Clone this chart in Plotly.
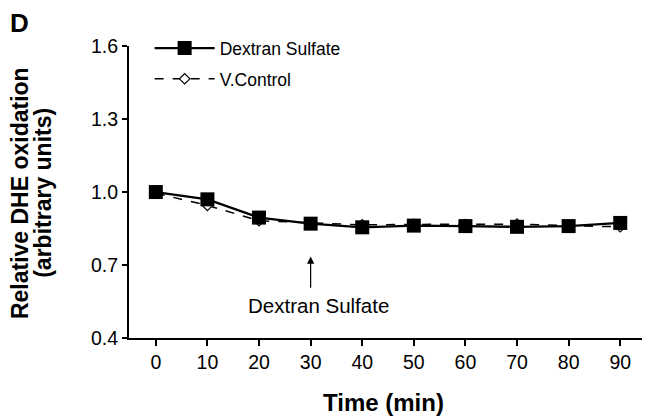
import plotly.graph_objects as go

time_min = [0, 10, 20, 30, 40, 50, 60, 70, 80, 90]
dextran_sulfate = [1.0, 0.97, 0.895, 0.87, 0.855, 0.862, 0.86, 0.857, 0.86, 0.873]
v_control = [0.995, 0.945, 0.882, 0.872, 0.865, 0.867, 0.866, 0.868, 0.862, 0.857]
y_ticks = [0.4, 0.7, 1.0, 1.3, 1.6]
y_tick_text = ["0.4", "0.7", "1.0", "1.3", "1.6"]
x_ticks = [0, 10, 20, 30, 40, 50, 60, 70, 80, 90]
x_range = [-5.2, 94.8]

FONT = "Liberation Sans, Arial, sans-serif"

fig = go.Figure()
fig.add_trace(go.Scatter(
    x=time_min, y=v_control, name="V.Control", mode="lines+markers",
    line=dict(color="black", width=1.5, dash="dash"),
    marker=dict(symbol="diamond", size=8, color="white", line=dict(color="black", width=1.2)),
    legendgroup="b", legendrank=2,
))
fig.add_trace(go.Scatter(
    x=time_min, y=dextran_sulfate, name="Dextran Sulfate", mode="lines+markers",
    line=dict(color="black", width=2.3),
    marker=dict(symbol="square", size=14, color="black"),
    legendgroup="a", legendrank=1,
))

# arrow marking treatment
fig.add_annotation(x=30, y=0.735, ax=30, ay=0.6, xref="x", yref="y", axref="x", ayref="y",
                   text="", showarrow=True, arrowhead=2, arrowsize=1.2, arrowwidth=1.2,
                   arrowcolor="black")
fig.add_annotation(x=31.5, y=0.535, xref="x", yref="y", text="Dextran Sulfate",
                   showarrow=False, font=dict(family=FONT, size=20.5, color="black"))
# panel letter
fig.add_annotation(x=-0.213, y=0.99, xref="paper", yref="paper", xanchor="center", yanchor="middle",
                   text="<b>D</b>", showarrow=False, borderpad=0,
                   font=dict(family=FONT, size=26, color="black"))
# axis titles
fig.add_annotation(x=0.494, y=-0.204, xref="paper", yref="paper", xanchor="center",
                   yanchor="middle", text="<b>Time (min)</b>", showarrow=False,
                   font=dict(family=FONT, size=24, color="black"))
fig.add_annotation(x=-0.211, y=0.456, xref="paper", yref="paper", xanchor="center",
                   yanchor="middle", textangle=-90, text="<b>Relative DHE oxidation</b>",
                   showarrow=False, font=dict(family=FONT, size=23, color="black"))
fig.add_annotation(x=-0.167, y=0.456, xref="paper", yref="paper", xanchor="center",
                   yanchor="middle", textangle=-90, text="<b>(arbitrary units)</b>",
                   showarrow=False, font=dict(family=FONT, size=23, color="black"))

fig.update_layout(
    width=642, height=411,
    margin=dict(l=121, r=5, t=12, b=81),
    paper_bgcolor="white", plot_bgcolor="white",
    font=dict(family=FONT, color="black"),
    showlegend=True,
    legend=dict(x=0.04, y=0.968, xanchor="left", yanchor="top",
                font=dict(family=FONT, size=17.5, color="black"),
                itemwidth=60, tracegroupgap=5, bgcolor="rgba(0,0,0,0)"),
    xaxis=dict(range=x_range, tickvals=x_ticks + [x_range[1]],
               ticktext=[str(v) for v in x_ticks] + [""],
               ticks="outside", ticklen=6,
               tickwidth=1.5, tickcolor="black", showline=True, linecolor="black",
               linewidth=2, showgrid=False, zeroline=False, automargin=False,
               tickfont=dict(family=FONT, size=19.5)),
    yaxis=dict(range=[0.4, 1.6], domain=[0, 0.918], tickvals=y_ticks,
               ticktext=y_tick_text,
               ticks="outside", ticklen=5, tickwidth=1.5, tickcolor="black",
               showline=True, linecolor="black", linewidth=2, showgrid=False,
               zeroline=False, automargin=False, tickfont=dict(family=FONT, size=19.5)),
)

fig.write_html("out.html")
